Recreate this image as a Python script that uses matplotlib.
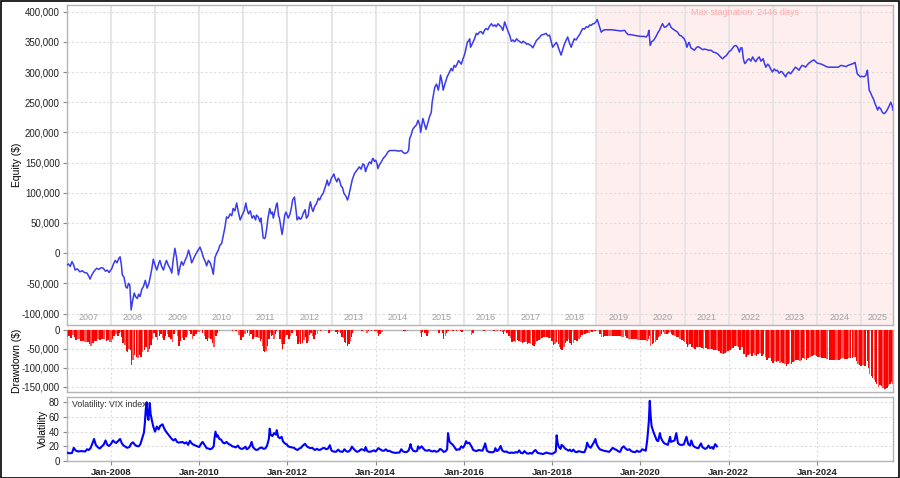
import matplotlib
matplotlib.use("Agg")
import matplotlib.pyplot as plt
import matplotlib.transforms as mtrans
from matplotlib.patches import Rectangle
from datetime import datetime, timedelta
import numpy as np

plt.rcParams['font.family'] = ['Liberation Sans', 'DejaVu Sans']

# ---------------- data ----------------
# equity curve: decimal year, value in thousands of $
equity_t = [
2007.00,2007.04,2007.08,2007.12,2007.16,2007.19,2007.24,2007.30,2007.35,2007.40,2007.46,2007.50,2007.53,2007.57,2007.62,
2007.68,2007.73,2007.78,2007.83,2007.88,2007.92,2007.96,2008.02,2008.06,2008.10,2008.14,2008.18,2008.21,2008.24,2008.26,
2008.30,2008.34,2008.37,2008.40,2008.43,2008.46,2008.49,2008.53,2008.56,2008.60,2008.63,2008.66,2008.70,2008.74,2008.78,
2008.82,2008.86,2008.89,2008.93,2008.96,2009.00,2009.04,2009.08,2009.11,2009.15,2009.19,2009.23,2009.26,2009.30,2009.34,
2009.38,2009.41,2009.45,2009.49,2009.53,2009.57,2009.60,2009.64,2009.68,2009.72,2009.76,2009.80,2009.83,2009.87,2009.90,
2009.95,2010.02,2010.06,2010.10,2010.14,2010.17,2010.21,2010.25,2010.29,2010.32,2010.36,2010.40,2010.44,2010.47,2010.51,
2010.55,2010.59,2010.62,2010.66,2010.70,2010.74,2010.77,2010.81,2010.85,2010.89,2010.93,2010.97,2011.02,2011.06,2011.08,
2011.12,2011.16,2011.20,2011.24,2011.28,2011.30,2011.34,2011.38,2011.40,2011.43,2011.45,2011.48,2011.50,2011.53,2011.56,
2011.60,2011.63,2011.66,2011.68,2011.72,2011.75,2011.77,2011.80,2011.82,2011.85,2011.88,2011.91,2011.94,2011.97,2012.02,
2012.06,2012.09,2012.12,2012.16,2012.19,2012.22,2012.26,2012.29,2012.32,2012.36,2012.40,2012.43,2012.47,2012.50,2012.52,
2012.55,2012.58,2012.62,2012.66,2012.70,2012.73,2012.77,2012.81,2012.85,2012.88,2012.90,2012.93,2012.96,2013.00,2013.03,
2013.05,2013.08,2013.12,2013.15,2013.18,2013.21,2013.25,2013.28,2013.31,2013.34,2013.36,2013.38,2013.41,2013.44,2013.47,
2013.49,2013.52,2013.56,2013.60,2013.63,2013.67,2013.71,2013.74,2013.77,2013.79,2013.82,2013.85,2013.87,2013.90,2013.92,
2013.94,2013.97,2014.00,2014.03,2014.05,2014.08,2014.12,2014.17,2014.21,2014.24,2014.28,2014.32,2014.39,2014.45,2014.52,
2014.58,2014.62,2014.66,2014.70,2014.73,2014.75,2014.77,2014.80,2014.84,2014.88,2014.92,2014.96,2015.00,2015.02,2015.05,
2015.07,2015.10,2015.14,2015.18,2015.22,2015.26,2015.28,2015.31,2015.34,2015.38,2015.42,2015.45,2015.47,2015.50,2015.53,
2015.56,2015.59,2015.62,2015.66,2015.71,2015.74,2015.78,2015.81,2015.85,2015.88,2015.91,2015.94,2015.98,2016.02,2016.05,
2016.08,2016.11,2016.13,2016.15,2016.19,2016.24,2016.28,2016.31,2016.35,2016.39,2016.43,2016.47,2016.50,2016.54,2016.58,
2016.62,2016.66,2016.70,2016.73,2016.77,2016.81,2016.85,2016.88,2016.90,2016.92,2016.96,2017.00,2017.04,2017.07,2017.11,
2017.15,2017.19,2017.23,2017.27,2017.31,2017.34,2017.38,2017.42,2017.45,2017.49,2017.53,2017.56,2017.60,2017.64,2017.68,
2017.72,2017.75,2017.79,2017.83,2017.86,2017.90,2017.94,2017.97,2018.01,2018.05,2018.09,2018.12,2018.15,2018.18,2018.20,
2018.24,2018.28,2018.31,2018.35,2018.39,2018.43,2018.46,2018.50,2018.54,2018.58,2018.62,2018.66,2018.69,2018.73,2018.77,
2018.81,2018.85,2018.88,2018.92,2018.95,2019.00,2019.02,2019.05,2019.07,2019.11,2019.14,2019.18,2019.26,2019.35,2019.45,
2019.55,2019.64,2019.68,2019.72,2019.78,2019.84,2019.92,2020.00,2020.08,2020.13,2020.17,2020.19,2020.22,2020.25,2020.29,
2020.32,2020.36,2020.40,2020.43,2020.47,2020.50,2020.54,2020.58,2020.62,2020.65,2020.69,2020.72,2020.76,2020.80,2020.84,
2020.88,2020.92,2020.96,2020.99,2021.02,2021.05,2021.08,2021.10,2021.14,2021.18,2021.22,2021.26,2021.30,2021.33,2021.37,
2021.41,2021.45,2021.50,2021.55,2021.60,2021.65,2021.70,2021.75,2021.80,2021.84,2021.86,2021.90,2021.94,2021.97,2022.01,
2022.05,2022.08,2022.12,2022.16,2022.20,2022.24,2022.27,2022.30,2022.33,2022.36,2022.39,2022.42,2022.46,2022.50,2022.54,
2022.58,2022.61,2022.65,2022.69,2022.73,2022.78,2022.81,2022.84,2022.88,2022.91,2022.95,2022.99,2023.03,2023.07,2023.10,
2023.14,2023.18,2023.21,2023.25,2023.29,2023.32,2023.36,2023.40,2023.44,2023.48,2023.51,2023.55,2023.59,2023.63,2023.66,
2023.70,2023.74,2023.78,2023.82,2023.86,2023.90,2023.93,2023.97,2024.00,2024.05,2024.10,2024.16,2024.21,2024.26,2024.33,
2024.40,2024.48,2024.52,2024.55,2024.60,2024.66,2024.70,2024.74,2024.78,2024.82,2024.86,2024.89,2024.91,2024.95,2024.98,
2025.02,2025.06,2025.10,2025.12,2025.14,2025.16,2025.18,2025.21,2025.25,2025.28,2025.31,2025.34,2025.37,2025.40,2025.44,
2025.48,2025.52,2025.56,2025.60,2025.64,2025.67,2025.70,2025.72]
equity_k = [
-20,-18,-22,-14,-20,-28,-26,-31,-29,-32,-33,-38,-43,-36,-30,
-25,-27,-24,-25,-30,-28,-32,-26,-18,-12,-16,-9,-6,-20,-36,
-40,-56,-58,-50,-53,-94,-80,-66,-72,-75,-68,-72,-60,-55,-45,
-58,-50,-40,-25,-10,-20,-28,-18,-12,-22,-28,-18,-12,-20,-25,
-33,-12,8,-8,-36,-22,-14,-20,-12,-6,5,-5,-16,-10,-5,
2,10,2,-8,-14,-21,-12,-16,-25,-35,-7,0,6,13,16,
30,45,60,58,65,62,74,70,83,68,55,62,70,83,74,
65,70,58,62,55,63,60,52,58,40,26,24,26,40,58,
74,65,68,58,70,80,83,62,58,45,31,45,63,68,58,
65,75,88,93,75,55,60,56,58,66,72,58,62,78,85,
75,69,78,82,91,88,95,99,108,115,121,112,116,125,128,
131,124,118,124,121,112,108,99,96,92,88,92,102,112,122,
126,132,136,140,143,139,148,146,135,140,145,150,151,148,155,
157,152,154,148,140,146,150,157,160,163,168,170,170,170,169,
170,167,165,166,168,172,190,195,205,209,212,220,212,200,214,
223,215,205,215,226,233,250,262,275,280,270,282,295,285,270,
278,285,292,298,306,302,311,308,314,319,316,313,322,330,340,
350,352,355,341,347,355,364,362,366,367,363,370,372,370,376,
380,376,378,375,380,377,374,369,375,383,375,367,360,351,353,
350,355,352,350,348,351,349,346,347,345,343,340,346,352,355,
358,361,362,363,364,360,361,352,341,345,349,345,338,332,328,
338,347,352,358,348,341,348,355,353,358,362,368,372,371,375,
374,378,377,380,380,384,387,380,375,366,368,370,370,370,369,
368,369,365,362,362,361,360,359,359,358,362,369,344,350,352,
355,360,366,369,376,380,374,375,378,381,374,372,370,368,366,
361,360,357,355,350,341,347,349,340,338,336,340,342,341,339,
337,338,337,336,336,333,332,330,326,323,322,325,327,330,334,
336,339,343,344,341,333,340,340,322,314,316,320,322,318,325,
320,317,322,325,318,322,314,308,313,311,305,300,305,302,303,
298,301,300,296,292,297,300,297,301,305,308,306,303,308,311,
310,308,312,315,317,319,320,317,315,314,313,311,309,308,308,
308,308,310,311,310,309,311,312,313,314,316,305,297,294,292,
293,292,294,298,303,285,270,266,259,255,248,243,237,242,239,
233,231,234,239,245,250,244,237]

# VIX index: decimal year, level
vix_t = [
2007.00,2007.04,2007.08,2007.12,2007.16,2007.20,2007.25,2007.33,2007.42,2007.46,2007.50,2007.54,2007.58,2007.62,2007.66,
2007.71,2007.75,2007.80,2007.84,2007.88,2007.92,2007.96,2008.00,2008.05,2008.08,2008.12,2008.16,2008.21,2008.25,2008.29,
2008.37,2008.42,2008.46,2008.50,2008.54,2008.58,2008.63,2008.67,2008.71,2008.75,2008.77,2008.79,2008.81,2008.83,2008.85,
2008.88,2008.90,2008.93,2008.96,2009.00,2009.04,2009.08,2009.12,2009.17,2009.21,2009.25,2009.30,2009.34,2009.38,2009.42,
2009.46,2009.50,2009.54,2009.58,2009.62,2009.67,2009.71,2009.75,2009.79,2009.83,2009.88,2009.92,2009.96,2010.00,2010.05,
2010.08,2010.12,2010.17,2010.21,2010.25,2010.29,2010.33,2010.35,2010.37,2010.40,2010.42,2010.46,2010.50,2010.54,2010.58,
2010.62,2010.67,2010.71,2010.75,2010.79,2010.83,2010.88,2010.92,2010.96,2011.00,2011.05,2011.08,2011.12,2011.16,2011.19,
2011.22,2011.25,2011.29,2011.33,2011.37,2011.42,2011.46,2011.50,2011.54,2011.58,2011.60,2011.62,2011.66,2011.70,2011.74,
2011.76,2011.79,2011.83,2011.87,2011.90,2011.94,2011.98,2012.02,2012.06,2012.10,2012.15,2012.19,2012.23,2012.27,2012.31,
2012.35,2012.40,2012.44,2012.48,2012.52,2012.56,2012.62,2012.67,2012.71,2012.75,2012.79,2012.83,2012.88,2012.92,2012.96,
2013.00,2013.04,2013.10,2013.15,2013.19,2013.25,2013.29,2013.33,2013.37,2013.42,2013.46,2013.50,2013.54,2013.58,2013.62,
2013.67,2013.71,2013.75,2013.77,2013.81,2013.85,2013.90,2013.96,2014.00,2014.06,2014.10,2014.15,2014.19,2014.23,2014.27,
2014.31,2014.35,2014.40,2014.46,2014.50,2014.54,2014.58,2014.62,2014.67,2014.71,2014.75,2014.79,2014.81,2014.85,2014.90,
2014.94,2014.96,2014.99,2015.04,2015.08,2015.12,2015.17,2015.21,2015.25,2015.29,2015.33,2015.37,2015.42,2015.46,2015.50,
2015.54,2015.58,2015.62,2015.64,2015.67,2015.71,2015.75,2015.79,2015.83,2015.87,2015.90,2015.94,2015.98,2016.02,2016.05,
2016.08,2016.12,2016.17,2016.21,2016.25,2016.29,2016.33,2016.37,2016.42,2016.46,2016.48,2016.52,2016.56,2016.60,2016.65,
2016.69,2016.71,2016.75,2016.79,2016.83,2016.87,2016.92,2016.96,2017.00,2017.04,2017.08,2017.12,2017.17,2017.21,2017.25,
2017.29,2017.33,2017.37,2017.42,2017.46,2017.50,2017.54,2017.58,2017.62,2017.67,2017.71,2017.75,2017.79,2017.83,2017.87,
2017.92,2017.96,2018.00,2018.04,2018.08,2018.10,2018.12,2018.15,2018.19,2018.21,2018.25,2018.29,2018.33,2018.37,2018.40,
2018.44,2018.48,2018.52,2018.56,2018.60,2018.65,2018.69,2018.73,2018.77,2018.79,2018.83,2018.87,2018.90,2018.94,2018.98,
2019.00,2019.04,2019.08,2019.12,2019.17,2019.21,2019.25,2019.29,2019.33,2019.37,2019.42,2019.46,2019.50,2019.54,2019.58,
2019.62,2019.67,2019.71,2019.75,2019.79,2019.83,2019.88,2019.92,2019.96,2020.00,2020.04,2020.08,2020.12,2020.15,2020.17,
2020.19,2020.21,2020.23,2020.25,2020.29,2020.33,2020.37,2020.40,2020.44,2020.46,2020.50,2020.54,2020.58,2020.62,2020.67,
2020.69,2020.73,2020.77,2020.81,2020.85,2020.90,2020.94,2020.98,2021.04,2021.08,2021.12,2021.15,2021.19,2021.23,2021.27,
2021.31,2021.37,2021.40,2021.46,2021.50,2021.54,2021.58,2021.62,2021.65,2021.69,2021.73]
vix_v = [
11.5,10.8,10.5,11.0,18.0,14.5,13.0,13.5,13.0,16.0,15.0,17.5,23.5,30.0,22.0,
18.5,17.0,20.0,22.5,28.0,22.0,20.5,23.0,28.0,26.0,24.5,27.0,30.0,24.0,21.0,
18.0,19.0,23.5,25.5,22.5,20.5,20.0,23.0,31.0,39.0,52.0,70.0,80.0,62.0,56.0,
79.0,64.0,55.0,47.0,40.0,47.0,43.0,48.0,50.0,44.0,40.0,36.0,33.0,30.0,28.0,
30.0,26.0,25.0,25.5,26.0,24.0,25.5,22.0,27.5,24.0,22.0,21.0,20.0,19.0,24.0,
26.0,22.0,17.5,17.0,16.0,17.0,20.0,32.0,40.0,33.0,35.0,30.0,29.0,25.0,24.0,
26.0,23.0,22.0,20.0,19.5,18.5,21.0,17.5,16.5,17.0,19.5,16.0,17.5,21.0,26.0,
19.0,17.0,15.0,15.5,17.5,18.5,16.5,17.0,21.0,30.0,44.0,36.0,34.0,38.0,36.0,
42.0,33.0,31.0,33.0,27.0,24.0,23.0,20.0,19.0,18.5,18.0,16.0,15.0,17.0,18.0,
21.0,23.5,20.0,18.5,17.5,18.0,15.0,16.5,15.0,15.5,17.0,18.0,16.0,17.0,21.5,
14.0,13.0,12.5,15.5,13.0,12.5,16.0,13.5,12.5,14.5,19.5,16.5,14.0,12.5,13.5,
16.0,15.5,14.0,19.0,13.5,12.5,13.0,14.5,13.0,17.5,16.0,14.0,14.0,16.0,13.5,
14.0,12.5,11.5,11.0,11.5,11.5,16.0,13.0,12.0,12.5,14.5,23.0,18.0,14.0,13.0,
14.0,20.0,17.0,20.0,17.0,14.5,14.0,15.0,13.5,13.0,14.0,12.5,13.5,16.5,15.0,
12.5,13.0,16.0,38.0,27.0,24.0,22.0,18.5,15.0,16.0,15.5,20.0,18.0,22.0,27.0,
24.0,25.0,20.0,15.0,14.0,13.5,15.0,14.5,14.0,20.0,24.0,14.0,12.5,12.0,12.0,
13.0,17.5,13.5,15.5,20.5,14.0,12.5,13.0,11.5,11.0,11.5,11.0,12.0,11.5,14.5,
11.0,10.5,13.5,10.5,10.0,11.0,10.0,13.0,15.0,11.0,10.5,10.0,9.5,10.5,11.5,
10.5,10.0,9.8,11.0,13.0,35.0,25.0,19.0,16.5,22.0,20.0,17.0,15.5,14.0,15.5,
13.0,15.5,12.5,12.0,13.5,12.5,12.0,12.0,18.0,25.0,20.0,18.0,21.0,25.0,30.0,
24.0,19.0,16.0,15.0,14.0,13.5,13.0,12.5,15.0,18.0,16.0,15.0,13.0,12.5,18.0,
20.0,16.5,15.0,16.0,13.5,12.5,12.0,14.0,12.5,13.0,16.0,15.0,14.0,27.0,40.0,
55.0,82.0,62.0,48.0,40.0,34.0,28.0,27.0,38.0,32.0,27.0,24.0,23.0,22.0,33.0,
26.0,27.0,28.0,38.0,24.0,22.0,22.0,22.5,33.0,23.0,21.0,28.0,21.0,19.0,18.0,
17.5,24.0,19.0,16.5,17.5,21.0,17.5,19.0,16.5,23.0,20.0]

year_labels = [str(y) for y in range(2007, 2026)]
stagnation_days = 2446
x_start, x_end = 2007.0, 2025.72
peak_t = 2019.02


def to_date(y):
    yi = int(y)
    start = datetime(yi, 1, 1)
    length = (datetime(yi + 1, 1, 1) - start).days
    return start + timedelta(days=(y - yi) * length)


eq_dates = [to_date(t) for t in equity_t]
equity = np.array(equity_k) * 1000.0
running_peak = np.maximum.accumulate(np.concatenate([[0.0], equity]))[1:]
drawdown = equity - running_peak
vix_dates = [to_date(t) for t in vix_t]

# ---------------- figure ----------------
W, H = 900, 478
fig = plt.figure(figsize=(W / 100, H / 100), dpi=100)
fig.patch.set_facecolor('white')

def pax(l, t, r, b):
    return [l / W, 1 - b / H, (r - l) / W, (b - t) / H]

ax1 = fig.add_axes(pax(66.7, 5, 893, 325))
ax2 = fig.add_axes(pax(66.7, 329.5, 893, 392.3), sharex=ax1)
ax3 = fig.add_axes(pax(66.7, 397.3, 893, 461), sharex=ax1)

spine_col = '#b4b4b4'
grid_col = '#dcdcdc'
tick_col = '#222222'

for ax in (ax1, ax2, ax3):
    for s in ax.spines.values():
        s.set_color(spine_col)
        s.set_linewidth(1.0)
    ax.tick_params(axis='y', labelsize=7, length=3, color='#888888',
                   labelcolor=tick_col, pad=2)
    ax.yaxis.grid(True, linestyle=(0, (2, 2)), color=grid_col, linewidth=0.8)
    ax.set_axisbelow(True)

# --- equity panel ---
ax1.axvspan(to_date(peak_t), to_date(x_end), color='#ffeeee', zorder=0, lw=0)
for y in range(2008, 2026):
    ax1.axvline(datetime(y, 1, 1), color='#e2e2e2', lw=1.2, zorder=0.5)
ax1.plot(eq_dates, equity, color='#3a3aee', lw=1.1, zorder=3)
ax1.set_ylim(-119000, 411000)
ax1.set_yticks(np.arange(-100000, 400001, 50000))
ax1.yaxis.set_major_formatter(matplotlib.ticker.FuncFormatter(lambda v, p: f"{int(v):,}"))
ax1.set_ylabel('Equity ($)', fontsize=7.5, labelpad=0)
ax1.tick_params(axis='x', which='both', bottom=False, labelbottom=False)

trans = mtrans.blended_transform_factory(ax1.transData, ax1.transAxes)
for lab in year_labels:
    yv = int(lab)
    a = max(to_date(yv), to_date(x_start))
    b = min(datetime(yv + 1, 1, 1), to_date(x_end))
    mid = a + (b - a) / 2
    ax1.text(mid, 0.025, lab, transform=trans, ha='center', va='center',
             fontsize=6.5, color='#a0a0a0', zorder=4)

mid_st = to_date(peak_t) + (to_date(x_end) - to_date(peak_t)) / 2
ax1.text(mid_st, 0.978, f'Max stagnation: {stagnation_days} days', transform=trans,
         ha='center', va='center', fontsize=6.5, color='#ffaaaa', zorder=4)

# --- drawdown panel ---
dd_widths = [(eq_dates[i + 1] - eq_dates[i]).days if i + 1 < len(eq_dates) else 7
             for i in range(len(eq_dates))]
dd_colors = ['#ff0000' if i % 3 else '#ff5555' for i in range(len(eq_dates))]
ax2.bar(eq_dates, drawdown, width=dd_widths, align='edge', color=dd_colors,
        linewidth=0, zorder=3)
ax2.set_ylim(-165000, 0)
ax2.set_yticks([0, -50000, -100000, -150000])
ax2.yaxis.set_major_formatter(matplotlib.ticker.FuncFormatter(lambda v, p: f"{int(v):,}"))
ax2.set_ylabel('Drawdown ($)', fontsize=7.5, labelpad=0)
ax2.tick_params(axis='x', which='both', bottom=False, labelbottom=False)

# --- volatility panel ---
ax3.plot(vix_dates, vix_v, color='#0000ff', lw=1.5, zorder=3)
ax3.set_ylim(0, 86.8)
ax3.set_yticks([0, 20, 40, 60, 80])
ax3.set_ylabel('Volatility', fontsize=7.5, labelpad=1)
ax3.text(0.007, 0.88, 'Volatility: VIX index', transform=ax3.transAxes,
         fontsize=6.3, color='#333333', ha='left', va='center', zorder=4)

xt = [datetime(y, 1, 1) for y in range(2008, 2026, 2)]
ax3.set_xticks(xt)
ax3.set_xticklabels([d.strftime('Jan-%Y') for d in xt], fontsize=6.8,
                    fontweight='bold', color=tick_col)
ax3.tick_params(axis='x', length=3, color='#888888', pad=2)
for ax in (ax2, ax3):
    for d in xt:
        ax.axvline(d, linestyle=(0, (2, 2)), color=grid_col, lw=0.8, zorder=0.5)

ax1.set_xlim(to_date(x_start), to_date(x_end))

# outer black frame
fig.add_artist(Rectangle((0.0006, 0.001), 0.9988, 0.997, transform=fig.transFigure,
                         fill=False, edgecolor='black', lw=1.2))

fig.savefig('out.png', dpi=100, facecolor='white')
